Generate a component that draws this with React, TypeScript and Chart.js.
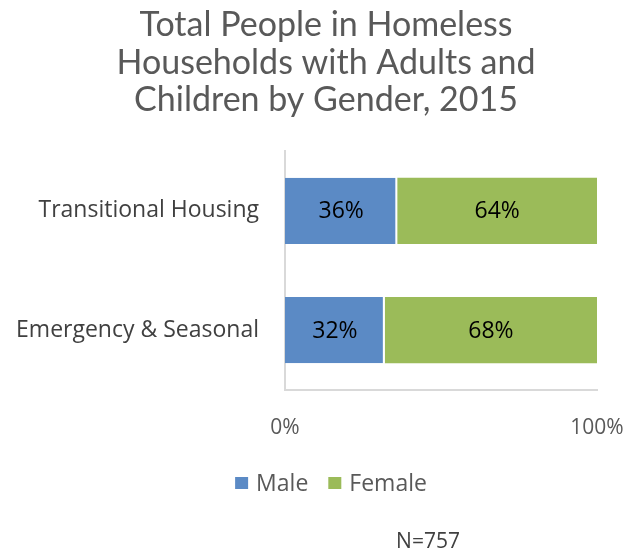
import React, { useEffect, useRef } from "react";
import { Chart, registerables } from "chart.js";

Chart.register(...registerables);

const categories = ["Transitional Housing", "Emergency & Seasonal"];
const maleValues = [36, 32];
const femaleValues = [64, 68];
const seriesNames = ["Male", "Female"];
const seriesColors = ["#5B8AC5", "#9BBB59"];
const tickLabels: Record<number, string> = { 0: "0%", 100: "100%" };
const titleLines = ["Total People in Homeless", "Households with Adults and", "Children by Gender, 2015"];
const noteText = "N=757";

const FONT = "'Open Sans', 'Noto Sans', sans-serif";

const valueLabels = {
  id: "valueLabels",
  afterDatasetsDraw(chart: any) {
    const ctx = chart.ctx;
    ctx.save();
    ctx.font = `23px ${FONT}`;
    ctx.fillStyle = "#000000";
    ctx.textAlign = "center";
    ctx.textBaseline = "middle";
    chart.data.datasets.forEach((ds: any, i: number) => {
      const meta = chart.getDatasetMeta(i);
      meta.data.forEach((bar: any, j: number) => {
        const p = bar.getProps(["x", "y", "base"], true);
        ctx.fillText(`${ds.data[j]}%`, (p.x + p.base) / 2, p.y + 1);
      });
    });
    ctx.restore();
  },
};

const shiftTitle = {
  id: "shiftTitle",
  afterLayout(chart: any) {
    const t = chart.titleBlock;
    if (t) {
      const dx = 326 - (t.left + t.right) / 2;
      t.left += dx;
      t.right += dx;
    }
  },
};

const customLegend = {
  id: "customLegend",
  afterDraw(chart: any) {
    const ctx = chart.ctx;
    ctx.save();
    ctx.font = `23px ${FONT}`;
    ctx.textBaseline = "middle";
    ctx.textAlign = "left";
    const box = 13;
    const gapBoxText = 8;
    const gapItems = 20;
    const items = chart.data.datasets.map((ds: any) => ({
      text: ds.label,
      color: ds.backgroundColor,
      w: ctx.measureText(ds.label).width,
    }));
    const total =
      items.reduce((s: number, it: any) => s + box + gapBoxText + it.w, 0) + gapItems * (items.length - 1);
    let x = 331 - total / 2;
    const y = 483;
    items.forEach((it: any) => {
      ctx.fillStyle = it.color;
      ctx.fillRect(x, y - 6, box, 12);
      x += box + gapBoxText;
      ctx.fillStyle = "#595959";
      ctx.fillText(it.text, x, y + 1);
      x += it.w + gapItems;
    });
    ctx.font = `21px ${FONT}`;
    ctx.fillStyle = "#404040";
    ctx.textAlign = "center";
    ctx.fillText(noteText, 428, 542);
    ctx.restore();
  },
};

export default function App() {
  const ref = useRef<HTMLCanvasElement>(null);
  useEffect(() => {
    const chart = new Chart(ref.current!, {
      type: "bar",
      data: {
        labels: categories,
        datasets: [
          {
            label: seriesNames[0],
            data: maleValues,
            backgroundColor: seriesColors[0],
            borderColor: "#ffffff",
            borderWidth: { left: 0, right: 2, top: 0, bottom: 0 },
            borderSkipped: false,
            barPercentage: 0.555,
            categoryPercentage: 1,
          },
          {
            label: seriesNames[1],
            data: femaleValues,
            backgroundColor: seriesColors[1],
            borderWidth: 0,
            barPercentage: 0.555,
            categoryPercentage: 1,
          },
        ],
      },
      options: {
        indexAxis: "y",
        animation: false,
        responsive: false,
        layout: { padding: { left: 0, right: 39, top: 0, bottom: 85 } },
        plugins: {
          title: {
            display: true,
            text: titleLines,
            color: "#595959",
            font: { family: "Lato, 'Open Sans', sans-serif", size: 34, weight: "normal", lineHeight: 1.09 },
            padding: { top: 7, bottom: 33 },
          },
          legend: { display: false },
          tooltip: { enabled: false },
        },
        scales: {
          x: {
            stacked: true,
            min: 0,
            max: 100,
            grid: { display: false, drawTicks: false },
            border: { display: true, color: "#d9d9d9", width: 2 },
            afterFit: (scale: any) => {
              scale.paddingLeft = 0;
              scale.paddingRight = 0;
            },
            ticks: {
              stepSize: 100,
              color: "#595959",
              font: { family: FONT, size: 21 },
              padding: 26,
              callback: (v: any) => tickLabels[v as number] ?? "",
            },
          },
          y: {
            stacked: true,
            grid: { display: false, drawTicks: false },
            border: { display: true, color: "#d9d9d9", width: 2 },
            afterFit: (scale: any) => {
              scale.width = 285;
            },
            ticks: {
              color: "#404040",
              font: { family: FONT, size: 23 },
              padding: 26,
            },
          },
        },
      },
      plugins: [valueLabels, shiftTitle, customLegend],
    });
    return () => chart.destroy();
  }, []);
  return (
    <div style={{ position: "fixed", left: 0, top: 0, width: 636, height: 552, background: "#fff" }}>
      <canvas ref={ref} width={636} height={552} />
    </div>
  );
}
